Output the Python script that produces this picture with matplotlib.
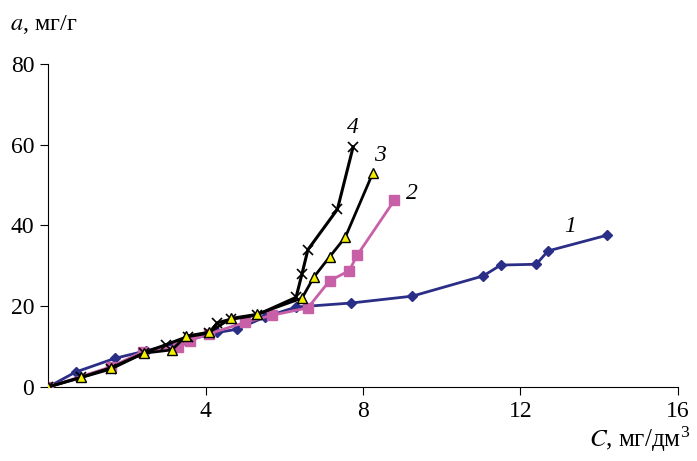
import matplotlib.pyplot as plt

# C, mg/dm3 and a, mg/g for curves 1-4
c1 = [0, 0.7, 1.7, 2.5, 3.5, 4.3, 4.8, 5.5, 6.3, 7.7, 9.25, 11.05, 11.5, 12.4, 12.7, 14.2]
a1 = [0, 3.7, 7.1, 9.0, 11.5, 13.5, 14.3, 17.3, 19.8, 20.8, 22.5, 27.5, 30.2, 30.4, 33.7, 37.6]

c2 = [0, 1.6, 2.4, 3.3, 3.6, 4.1, 5.0, 5.7, 6.6, 7.15, 7.65, 7.85, 8.8]
a2 = [0, 5.0, 8.7, 10.0, 11.5, 13.2, 16.0, 17.8, 19.6, 26.3, 28.8, 32.6, 46.3]

c3 = [0, 0.85, 1.6, 2.45, 3.15, 3.5, 4.1, 4.65, 5.3, 6.45, 6.75, 7.15, 7.55, 8.25]
a3 = [0, 2.4, 4.8, 8.4, 9.2, 12.6, 13.6, 17.0, 18.0, 22.0, 27.2, 32.2, 37.1, 53.0]

c4 = [0, 0.85, 1.6, 2.45, 3.0, 3.55, 4.1, 4.3, 4.65, 5.3, 6.3, 6.45, 6.6, 7.35, 7.75]
a4 = [0, 2.4, 4.5, 8.5, 10.5, 12.5, 13.4, 15.9, 16.8, 17.8, 22.2, 28.0, 34.0, 44.0, 59.5]

curve_labels = ['1', '2', '3', '4']
label_pos = [(13.1, 38.3), (9.1, 46.5), (8.28, 56.0), (7.6, 63.0)]

plt.rcParams['font.family'] = ['Liberation Serif', 'DejaVu Serif']
plt.rcParams['mathtext.fontset'] = 'stix'

fig = plt.figure(figsize=(6.97, 4.61), dpi=100)
ax = fig.add_axes([0.0689, 0.1605, 0.9038, 0.7007])

ax.plot(c1, a1, color='#2B2E86', lw=2, marker='D', ms=5.5, zorder=2)
ax.plot(c2, a2, color='#C860A8', lw=2, marker='s', ms=7, zorder=3)
ax.plot(c4, a4, color='black', lw=2.2, marker='x', ms=7, mew=1.2, zorder=4)
ax.plot(c3, a3, color='black', lw=2, marker='^', ms=7, mfc='#F2EE00',
        mec='black', mew=1, zorder=5)

for lab, (x, y) in zip(curve_labels, label_pos):
    ax.text(x, y, lab, fontsize=17, style='italic')

ax.set_xlim(0, 16)
ax.set_ylim(0, 80)
ax.set_xticks([4, 8, 12, 16])
ax.set_yticks([0, 20, 40, 60, 80])
ax.spines['top'].set_visible(False)
ax.spines['right'].set_visible(False)
ax.tick_params(direction='out', length=6, labelsize=17, pad=4)

fig.text(0.014, 0.935, r'$a$, мг/г', fontsize=17.5)
fig.text(0.99, 0.03, r'$C$, мг/дм$^{\mathregular{3}}$', fontsize=18, ha='right')

fig.savefig('out.png', dpi=100)
